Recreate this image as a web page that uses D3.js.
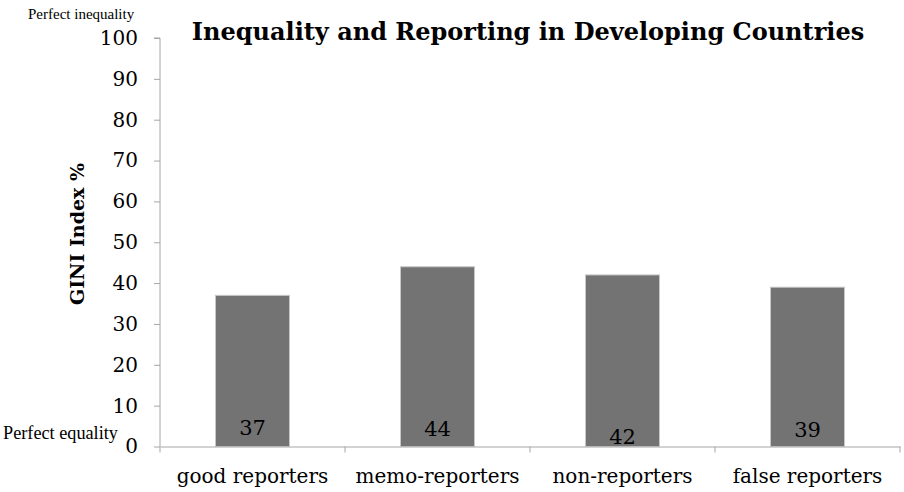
<!DOCTYPE html>
<html><head><meta charset="utf-8">
<script src="https://cdn.jsdelivr.net/npm/d3@7"></script>
<style>body{margin:0;background:#fff}svg{display:block}</style>
</head><body><svg id="c" width="904" height="492"></svg>
<script>
const categories = ["good reporters", "memo-reporters", "non-reporters", "false reporters"];
const values = [37, 44, 42, 39];
const yTicks = [0, 10, 20, 30, 40, 50, 60, 70, 80, 90, 100];
const labelNudge = [0, 1, 9, 2];

const svg = d3.select("#c");
const serif = "'DejaVu Serif', serif";
const x = d3.scaleBand().domain(categories).range([160, 900]).paddingInner(0.6).paddingOuter(0.3);
const y = d3.scaleLinear().domain([0, 100]).range([446.5, 38]);
const axisColor = "#a6a6a6";

// bars
svg.append("g").selectAll("rect").data(values).join("rect")
  .attr("x", (d, i) => x(categories[i]))
  .attr("width", x.bandwidth())
  .attr("y", d => y(d))
  .attr("height", d => y(0) - y(d))
  .attr("fill", "#737373")
  .attr("stroke", "#c8c8c8").attr("stroke-width", 1);

// y axis
const ya = svg.append("g").attr("transform", "translate(160,0)")
  .call(d3.axisLeft(y).tickValues(yTicks).tickSize(6).tickPadding(16));
ya.select(".domain").attr("stroke", axisColor).attr("d", `M-6,${y(100)}H0V${y(0)}`);
ya.selectAll(".tick line").attr("stroke", axisColor);
ya.selectAll(".tick text").attr("font-family", serif).attr("font-size", 20).attr("fill", "#000");

// x axis
const xa = svg.append("g").attr("transform", `translate(0,${y(0)})`)
  .call(d3.axisBottom(x).tickSize(0).tickPadding(22));
xa.select(".domain").attr("stroke", axisColor);
xa.selectAll(".tick text").attr("font-family", serif).attr("font-size", 20).attr("fill", "#000");
const step = x.step();
xa.selectAll(".sep").data(d3.range(categories.length + 1)).join("line")
  .attr("x1", i => 160 + i * step).attr("x2", i => 160 + i * step)
  .attr("y1", 0).attr("y2", 6).attr("stroke", axisColor);

// value labels
svg.append("g").selectAll("text").data(values).join("text")
  .attr("x", (d, i) => x(categories[i]) + x.bandwidth() / 2)
  .attr("y", (d, i) => y(0) - 12 + labelNudge[i])
  .attr("text-anchor", "middle")
  .attr("font-family", serif).attr("font-size", 21).attr("fill", "#000")
  .text(d => d);

// title
svg.append("text").attr("x", 528).attr("y", 40).attr("text-anchor", "middle")
  .attr("font-family", serif).attr("font-weight", "bold").attr("font-size", 24)
  .text("Inequality and Reporting in Developing Countries");

// y title
svg.append("text").attr("transform", "translate(84,234) rotate(-90)").attr("text-anchor", "middle")
  .attr("font-family", serif).attr("font-weight", "bold").attr("font-size", 19)
  .text("GINI Index %");

// annotations
svg.append("text").attr("x", 28).attr("y", 19)
  .attr("font-family", "'Liberation Serif', serif").attr("font-size", 15).text("Perfect inequality");
const a2 = svg.append("text").attr("x", 3).attr("y", 439)
  .attr("font-family", "'Liberation Serif', serif").attr("font-size", 16).text("Perfect equality");
const w2 = a2.node().getComputedTextLength();
if (w2 > 0) a2.attr("font-size", 16 * 115 / w2);
</script></body></html>
